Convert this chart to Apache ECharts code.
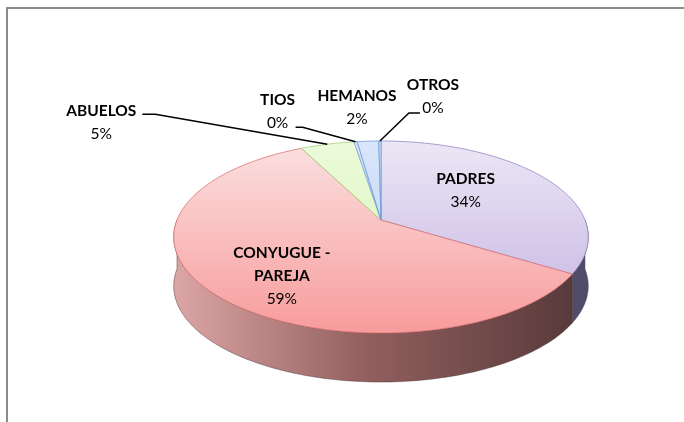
<!DOCTYPE html>
<html>
<head>
<meta charset="utf-8">
<script src="https://cdn.jsdelivr.net/npm/echarts@6/dist/echarts.min.js"></script>
<style>
  html, body { margin: 0; padding: 0; background: #fff; }
  #wrap { position: absolute; left: 0; top: 0; width: 684px; height: 422px; overflow: hidden; background: #fff; }
  #frame { position: absolute; left: 6px; top: 7px; width: 720px; height: 460px; border-left: 2px solid #8c8c8c; border-top: 2px solid #8c8c8c; }
  #chart { position: absolute; left: 0; top: 0; width: 684px; height: 422px; }
</style>
</head>
<body>
<div id="wrap">
  <div id="frame"></div>
  <div id="chart"></div>
</div>
<script>
// ---- data ----
const categories = ['PADRES', 'CONYUGUE - PAREJA', 'ABUELOS', 'TIOS', 'HEMANOS', 'OTROS'];
const values = [34, 59, 5, 0.3, 2, 0.2];

// ---- styling / layout (not data) ----
const G = { cx: 381, cy: 220, rx: 204, ry: 93, d: 5.65, h: 49 };
const topColors = [
  ['#ece7f6', '#c3b2e0'],
  ['#fbe1e1', '#f89c9c'],
  ['#ecfbdc', '#d3f2b0'],
  ['#d9e6fa', '#b9d0f4'],
  ['#d9e6fa', '#b9d0f4'],
  ['#d9e6fa', '#b9d0f4']
];
const topStroke = ['#9587c6', '#dc7474', '#a5d27a', '#7aa3dc', '#6f9bd9', '#6f9bd9'];
const wallStops = [
  [[0, '#6a6788'], [1, '#4f4c6a']],
  [[0, '#dca5a5'], [0.45, '#946060'], [1, '#553838']],
  [[0, '#a6c38a'], [1, '#7d9a64']],
  [[0, '#8ea6cc'], [1, '#6d86ad']],
  [[0, '#8ea6cc'], [1, '#6d86ad']],
  [[0, '#8ea6cc'], [1, '#6d86ad']]
];
// label layout: inside labels use radius fraction f + offset; outside labels offset from rim anchor
const labelLayout = [
  { inside: true, f: 0.55, dx: -9, dy: -6 },
  { inside: true, f: 0.6, dx: -2, dy: 15 },
  { inside: false, dx: -226, dy: -22, line: [[-172, -30], [-185, -30]] },
  { inside: false, dx: -78, dy: -30, line: [[-53, -14.5], [-60, -14.5]] },
  { inside: false, dx: -11, dy: -34, line: null },
  { inside: false, dx: 53, dy: -44, line: [[29, -28], [40, -28]] }
];

const total = values.reduce((a, b) => a + b, 0);
const starts = [];
(function () { let acc = 0; values.forEach(v => { starts.push(acc / total * Math.PI * 2); acc += v; }); })();

function proj(theta, f, dz) {
  const u = Math.sin(theta) * f, v = -Math.cos(theta) * f;
  const s = G.d / (G.d - v);
  return [G.cx + G.rx * u * s, G.cy + G.ry * v * s + dz];
}
function arc(a0, a1, f, dz) {
  const n = Math.max(2, Math.ceil((a1 - a0) / 0.02));
  const pts = [];
  for (let k = 0; k <= n; k++) pts.push(proj(a0 + (a1 - a0) * k / n, f, dz));
  return pts;
}

const FONT = 'Lato, "Open Sans", sans-serif';
const rich = {
  b: { fontFamily: FONT, fontWeight: 'bold', fontSize: 15.5, lineHeight: 23, fill: '#000', color: '#000' },
  p: { fontFamily: FONT, fontSize: 15.5, lineHeight: 23, fill: '#000', color: '#000' }
};

function renderItem(params, api) {
  const i = params.dataIndex;
  const val = api.value(0);
  const a0 = starts[i];
  const a1 = a0 + val / total * Math.PI * 2;
  const children = [];
  // outer wall (front half only)
  const w0 = Math.max(a0, Math.PI / 2), w1 = Math.min(a1, Math.PI * 1.5);
  if (w1 > w0) {
    const topArc = arc(w0, w1, 1, 0);
    const botArc = arc(w0, w1, 1, G.h).reverse();
    children.push({
      type: 'polygon', z2: 1,
      shape: { points: topArc.concat(botArc) },
      style: {
        fill: { type: 'linear', x: G.cx - G.rx, y: 0, x2: G.cx + G.rx, y2: 0, global: true,
                colorStops: wallStops[i].map(s => ({ offset: s[0], color: s[1] })) },
        stroke: wallStops[i][wallStops[i].length - 1][1], lineWidth: 0.5
      }
    });
  }
  // top face
  if (a1 - a0 > 1e-6) {
    const pts = [[G.cx, G.cy]].concat(arc(a0, a1, 1, 0));
    children.push({
      type: 'polygon', z2: 5,
      shape: { points: pts },
      style: {
        fill: { type: 'linear', x: 0, y: G.cy - G.ry * 0.85, x2: 0, y2: G.cy + G.ry * 1.2, global: true,
                colorStops: [{ offset: 0, color: topColors[i][0] }, { offset: 1, color: topColors[i][1] }] },
        stroke: topStroke[i], lineWidth: 0.8
      }
    });
  }
  // label
  const L = labelLayout[i];
  const mid = (a0 + a1) / 2;
  const pct = Math.round(val / total * 100) + '%';
  const name = categories[i].replace(' - ', ' -\n');
  const txt = name.split('\n').map(s => '{b|' + s + '}').join('\n') + '\n{p|' + pct + '}';
  let pos;
  if (L.inside) {
    const p = proj(mid, L.f, 0);
    pos = [p[0] + L.dx, p[1] + L.dy];
  } else {
    const anc = proj(mid, 1, 0);
    pos = [anc[0] + L.dx, anc[1] + L.dy];
    if (L.line) {
      children.push({
        type: 'polyline', z2: 20,
        shape: { points: [anc, [anc[0] + L.line[0][0], anc[1] + L.line[0][1]], [anc[0] + L.line[1][0], anc[1] + L.line[1][1]]] },
        style: { stroke: '#000', lineWidth: 1.5, fill: null }
      });
    }
  }
  children.push({
    type: 'text', z2: 30, x: pos[0], y: pos[1],
    style: { text: txt, rich: rich, align: 'center', verticalAlign: 'middle', fill: '#000' }
  });
  return { type: 'group', children: children };
}

const chart = echarts.init(document.getElementById('chart'), null, { renderer: 'canvas' });
chart.setOption({
  animation: false,
  backgroundColor: 'transparent',
  series: [{
    type: 'custom',
    coordinateSystem: 'none',
    renderItem: renderItem,
    data: values.map((v, i) => ({ name: categories[i], value: [v] }))
  }]
});
</script>
</body>
</html>
